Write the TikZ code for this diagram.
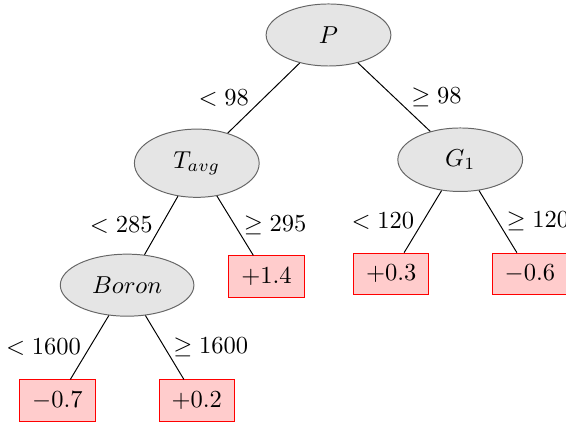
\documentclass[tikz,border=0pt]{standalone}
\usetikzlibrary{positioning,shapes.geometric}
\begin{document}
\begin{tikzpicture}[
		on grid, % distances from centre to centre
		semithick, % line style
		split/.style = {ellipse, draw=black!60, fill=gray!20, thin, minimum width=1.79cm, minimum height=0.89cm, inner sep=5pt},
		leaf/.style = {rectangle, draw=red, fill=red!20, thin, minimum width=1.08cm, minimum height=0.6cm}
		]
		
		\useasboundingbox (-4.714,0.502) rectangle (3.408,-5.553);
		
		\node[split] (P) {$P$};
		\node[split] (T) [below left=1.84cm and 1.89cm of P] {$T_{avg}$};
		\node[split] (G) [below right=1.79cm and 1.89cm of P] {$G_1$};
		\node[split] (B) [below left=1.75cm and 1cm of T] {$Boron$};
		\node[leaf] (t2) [below right=1.63cm and 1cm of T] {$+1.4$};
		\node[leaf] (g1) [below left=1.64cm and 0.99cm of G] {$+0.3$};
		\node[leaf] (g2) [below right=1.64cm and 1cm of G] {$-0.6$};
		\node[leaf] (b1) [below left=1.66cm and 1cm of B] {$-0.7$};
		\node[leaf] (b2) [below right=1.66cm and 1cm of B] {$+0.2$};
		
		\path[thin] 	
		(P) 	edge node[left=2.5pt] {$<98$} (T)
		edge node[right=3.5pt] {$\geq 98$} (G)
		(T) 	edge node[left] {$<285$} (B)
		edge node[right] {$\geq 295$} (t2)
		(G) 	edge node[left] {$<120$} (g1)
		edge node[right] {$\geq 120$} (g2)
		(B) 	edge node[left] {$<1600$} (b1)
		edge node[right] {$\geq 1600$} (b2);
		
	\end{tikzpicture}
\end{document}
